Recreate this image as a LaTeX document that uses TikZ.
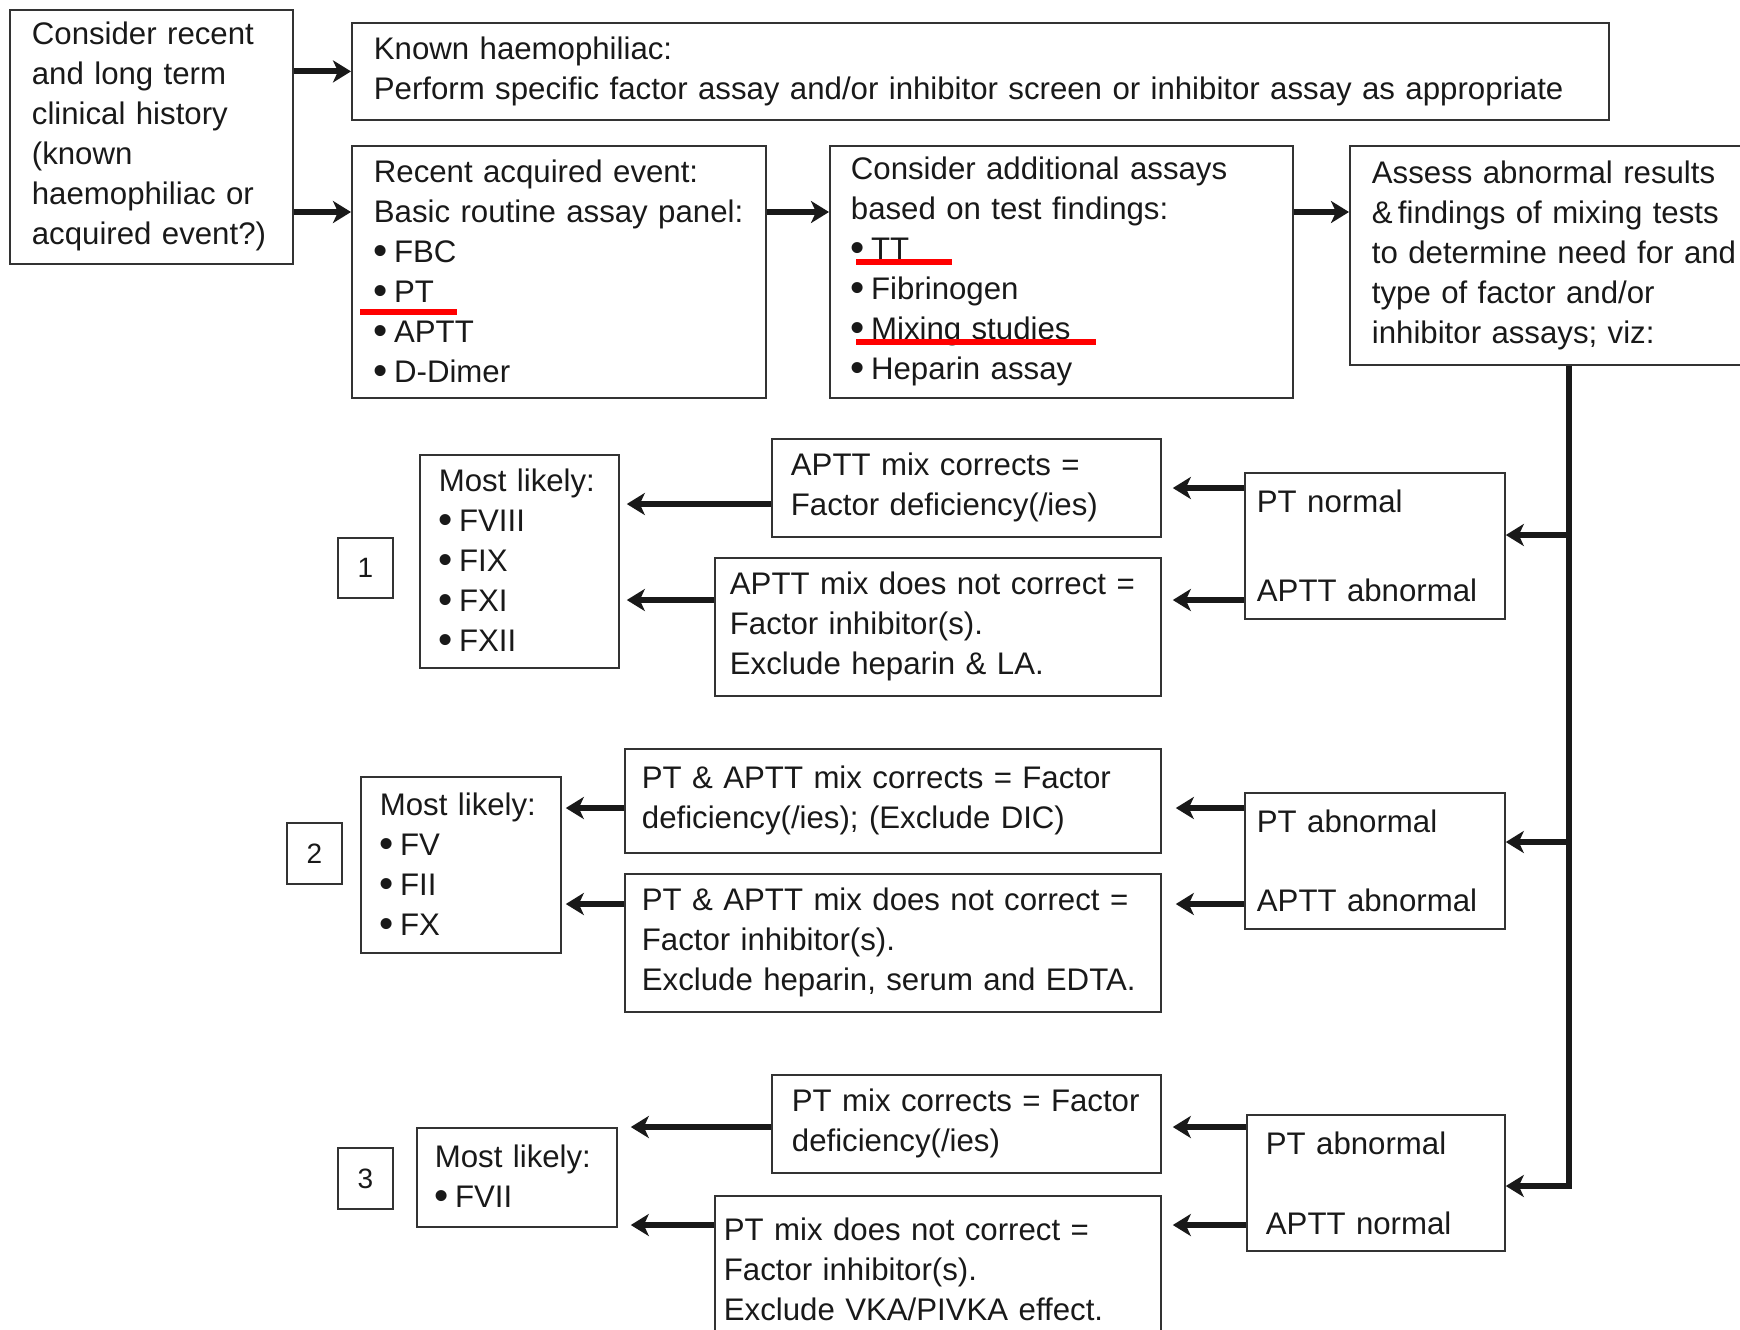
\documentclass[tikz,border=0pt]{standalone}
\usepackage{fontspec}
\setmainfont{Liberation Sans}
\usetikzlibrary{arrows.meta}

\newcommand\bul{\raisebox{-0.9pt}{\scalebox{1.3}{\textbullet}}\hspace{3pt}}

\tikzset{
  box/.style={draw=black!80, line width=0.9pt, anchor=north west, align=left,
    inner xsep=10pt, inner ysep=0pt, text=black!90,
    font=\fontsize{15.6}{20}\selectfont},
  numbox/.style={draw=black!80, line width=0.9pt, anchor=north west,
    minimum width=27.5pt, minimum height=30pt, inner sep=0pt, text=black!90,
    font=\fontsize{14}{16}\selectfont},
  arr/.style={line width=3pt, black!90, -{Stealth[length=9pt,width=11pt,inset=2.5pt]}},
  hl/.style={red, line width=3pt},
}

\begin{document}
\begin{tikzpicture}[x=0.5pt,y=-0.5pt]
      \useasboundingbox (0,0) rectangle (1740,1329);
      % top row
      \node[box, inner xsep=11pt, text width=119.5pt, minimum height=127pt] (hist) at (9,9)
        {Consider recent\\and long term\\clinical history\\(known\\haemophiliac or\\acquired event?)};
      \node[box, inner xsep=11pt, text width=606.5pt, minimum height=48.5pt] (known) at (351,22)
        {Known haemophiliac:\\Perform specific factor assay and/or inhibitor screen or inhibitor assay as appropriate};
      \node[box, inner xsep=11pt, text width=185pt, minimum height=126pt] (recent) at (351,145)
        {Recent acquired event:\\Basic routine assay panel:\\\bul FBC\\\bul PT\\\bul APTT\\\bul D-Dimer};
      \node[box, inner xsep=10.5pt, text width=210.5pt, minimum height=126pt] (consider) at (829,145)
        {Consider additional assays\\based on test findings:\\\bul TT\\\bul Fibrinogen\\\bul Mixing studies\\\bul Heparin assay};
      \node[box, inner xsep=11pt, text width=200pt, minimum height=109.5pt] (assess) at (1349,145)
        {Assess abnormal results\\\&\,findings of mixing tests\\to determine need for and\\type of factor and/or\\inhibitor assays; viz:};

      % row 1
      \node[box, inner xsep=6pt, text width=118pt, minimum height=73pt] (pn1) at (1244,472)
        {PT normal\\[24.5pt]APTT abnormal};
      \node[box, inner xsep=9.5pt, text width=175.5pt, minimum height=49pt] (m1a) at (771,438)
        {APTT mix corrects =\\Factor deficiency(/ies)};
      \node[box, inner xsep=7.5pt, text width=208pt, minimum height=69pt] (m1b) at (714,557)
        {APTT mix does not correct =\\Factor inhibitor(s).\\Exclude heparin \& LA.};
      \node[box, inner xsep=9.5pt, text width=80.5pt, minimum height=106.5pt] (l1) at (419,454)
        {Most likely:\\\bul FVIII\\\bul FIX\\\bul FXI\\\bul FXII};
      \node[numbox] (n1) at (337,537) {1};

      % row 2
      \node[box, inner xsep=6pt, text width=118pt, minimum height=68pt] (pn2) at (1244,792)
        {PT abnormal\\[19.5pt]APTT abnormal};
      \node[box, inner xsep=8.5pt, text width=251pt, minimum height=52pt] (m2a) at (624,748)
        {PT \& APTT mix corrects = Factor\\deficiency(/ies); (Exclude DIC)};
      \node[box, inner xsep=8.5pt, text width=251pt, minimum height=69pt] (m2b) at (624,873)
        {PT \& APTT mix does not correct =\\Factor inhibitor(s).\\Exclude heparin, serum and EDTA.};
      \node[box, inner xsep=9.5pt, text width=81pt, minimum height=88pt] (l2) at (360,776)
        {Most likely:\\\bul FV\\\bul FII\\\bul FX};
      \node[numbox, minimum height=30.5pt] (n2) at (286,822) {2};

      % row 3
      \node[box, inner xsep=9.5pt, text width=110pt, minimum height=68pt] (pn3) at (1246,1114)
        {PT abnormal\\[20pt]APTT normal};
      \node[box, inner xsep=10pt, text width=174.5pt, minimum height=49pt] (m3a) at (771,1074)
        {PT mix corrects = Factor\\deficiency(/ies)};
      \node[box, inner xsep=4.5pt, text width=214pt, minimum height=73pt] (m3b) at (714,1195)
        {PT mix does not correct =\\Factor inhibitor(s).\\Exclude VKA/PIVKA effect.};
      \node[box, inner xsep=9pt, text width=82pt, minimum height=49.5pt] (l3) at (416,1127)
        {Most likely:\\\bul FVII};
      \node[numbox, minimum height=30.5pt] (n3) at (337,1147) {3};

      % arrows along the top
      \draw[arr] (hist.east |- known.west) -- (known.west);
      \draw[arr] (hist.east |- 0,212) -- (recent.west |- 0,212);
      \draw[arr] (recent.east |- 0,212) -- (consider.west |- 0,212);
      \draw[arr] (consider.east |- 0,212) -- (assess.west |- 0,212);

      % trunk
      \coordinate (trunk) at (assess.south -| 1569,0);
      \draw[arr] (trunk) |- (pn3.east |- 0,1186);
      \draw[arr] (trunk |- 0,535) -- (pn1.east |- 0,535);
      \draw[arr] (trunk |- 0,842) -- (pn2.east |- 0,842);

      % row arrows
      \draw[arr, shorten >=5.5pt] (pn1.west |- 0,488) -- (m1a.east |- 0,488);
      \draw[arr, shorten >=5.5pt] (pn1.west |- 0,600) -- (m1b.east |- 0,600);
      \draw[arr, shorten >=3.5pt] (m1a.west |- 0,504) -- (l1.east |- 0,504);
      \draw[arr, shorten >=3.5pt] (m1b.west |- 0,600) -- (l1.east |- 0,600);

      \draw[arr, shorten >=7pt] (pn2.west |- 0,808) -- (m2a.east |- 0,808);
      \draw[arr, shorten >=7pt] (pn2.west |- 0,904) -- (m2b.east |- 0,904);
      \draw[arr, shorten >=2pt] (m2a.west |- 0,808) -- (l2.east |- 0,808);
      \draw[arr, shorten >=2pt] (m2b.west |- 0,904) -- (l2.east |- 0,904);

      \draw[arr, shorten >=5.5pt] (pn3.west |- 0,1127) -- (m3a.east |- 0,1127);
      \draw[arr, shorten >=5.5pt] (pn3.west |- 0,1225) -- (m3b.east |- 0,1225);
      \draw[arr, shorten >=6.5pt] (m3a.west |- 0,1127) -- (l3.east |- 0,1127);
      \draw[arr, shorten >=6.5pt] (m3b.west |- 0,1225) -- (l3.east |- 0,1225);

      % red marks
      \draw[hl] (360,312) -- (457,312);
      \draw[hl] (856,262) -- (952,262);
      \draw[hl] (856,342) -- (1096,342);
\end{tikzpicture}
\end{document}
